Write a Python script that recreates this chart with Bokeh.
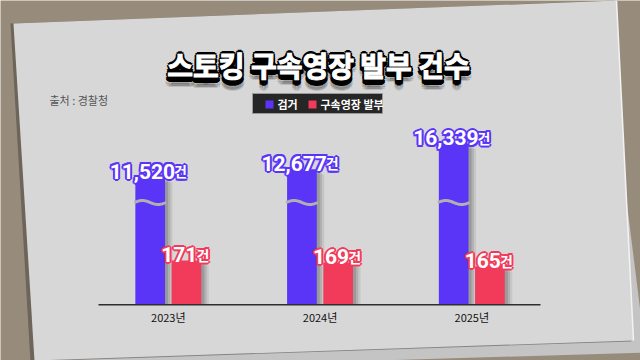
from bokeh.plotting import figure
from bokeh.models import Range1d, ColumnDataSource
from bokeh.core.properties import value
from bokeh.embed import file_html
from bokeh.resources import INLINE
import numpy as np

# ---------------- data ----------------
years = ["2023년", "2024년", "2025년"]
arrests = [11520, 12677, 16339]        # 검거
warrants = [171, 169, 165]             # 구속영장 발부
title_text = "스토킹 구속영장 발부 건수"
source_note = "출처 : 경찰청"
legend_labels = ["검거", "구속영장 발부"]
unit = "건"

# ---------------- style ----------------
W, H = 640, 360
PURPLE = "#5a35f7"
RED = "#f23a5a"
PAPER = "#d7d7d7"
BG = "#978c7b"
KR = value("Noto Sans CJK KR")
NUM = value("Roboto")

BASE_Y = 55.7                     # baseline height (px from bottom)
P_UPP, P_BASE = 144.3, -6890.0    # broken scale for 검거
R_UPP, R_BASE = 1.0, 126.7        # magnified scale for 구속영장 발부

p = figure(width=W, height=H, x_range=Range1d(0, W), y_range=Range1d(0, H),
           output_backend="svg", toolbar_location=None, min_border=0,
           x_axis_location=None, y_axis_location=None)
p.grid.visible = False
p.outline_line_color = None
p.background_fill_color = BG
p.border_fill_color = BG

p.extra_x_ranges = {"cat": Range1d(-0.6058, 3.6117)}
p.extra_y_ranges = {
    "pur": Range1d(P_BASE - BASE_Y * P_UPP, P_BASE + (H - BASE_Y) * P_UPP),
    "red": Range1d(R_BASE - BASE_Y * R_UPP, R_BASE + (H - BASE_Y) * R_UPP),
}

# ---------------- paper ----------------
p.patch([40, 626, 645, 45], [H - 200, H - 200, H - 352, -10], fill_color="#c4c4c4", line_color=None)
p.patch([10, 613, 631, 30], [H - 23, H, H - 341, -1], fill_color="#3a3530", fill_alpha=0.45, line_color=None)
p.patch([13, 616, 633, 34], [H - 23, H, H - 340, 0], fill_color=PAPER, line_color=None)
p.line([616, 633], [H, H - 340], line_color="#f2f2f2", line_width=1.5)

# ---------------- bars ----------------
pos = np.arange(len(years)) + 0.5
off, bw = 0.1193, 0.1957
px = 1 / 151.75

src = ColumnDataSource(dict(
    xp=pos - off, xr=pos + off, arrests=arrests, warrants=warrants,
    pb=[P_BASE] * 3, rb=[R_BASE] * 3,
))

# soft shadows
for d, a in [(5, 0.08), (3.5, 0.11), (2, 0.13)]:
    p.vbar(x=[x + d * px for x in pos - off], top=[v - d * P_UPP for v in arrests], bottom=P_BASE,
           width=bw + d * px, fill_color="black", fill_alpha=a, line_color=None,
           x_range_name="cat", y_range_name="pur")
    p.vbar(x=[x + d * px for x in pos + off], top=[v - d * R_UPP for v in warrants], bottom=R_BASE,
           width=bw + d * px, fill_color="black", fill_alpha=a, line_color=None,
           x_range_name="cat", y_range_name="red")

p.vbar(x="xp", top="arrests", bottom="pb", width=bw, source=src, fill_color=PURPLE,
       line_color=None, x_range_name="cat", y_range_name="pur")
p.vbar(x="xr", top="warrants", bottom="rb", width=bw, source=src, fill_color=RED,
       line_color=None, x_range_name="cat", y_range_name="red")

# axis break marks on 검거 bars
t = np.linspace(0, 1, 40)
xs, ys = [], []
for cx in pos - off:
    xs.append(list(cx - bw / 2 - 1 * px + t * (bw + 2 * px)))
    ys.append(list(158 + 2.0 * np.sin(2 * np.pi * t)))
p.multi_line(xs, ys, line_color="#b0b0b0", line_width=3.0, x_range_name="cat")

# baseline
p.line([98, 540], [BASE_Y, BASE_Y], line_color="#2e2e2e", line_width=1.6)

# year labels
p.text(x=list(pos), y=[BASE_Y - 12] * 3, text=years, x_range_name="cat",
       text_align="center", text_baseline="middle", text_font=KR,
       text_font_size="11px", text_color="#111111")

RING = [(np.cos(a), np.sin(a)) for a in np.linspace(0, 2 * np.pi, 8, endpoint=False)]


def num_w(s, fs):
    return sum(0.24 * fs if c == "," else 0.54 * fs for c in s)


# value labels (white with coloured outline)
FS = 21
for xs_, vals, rng, col in [(pos - off, arrests, "pur", PURPLE), (pos + off, warrants, "red", RED)]:
    labels = [f"{v:,}" for v in vals]
    xo = [num_w(s, FS) / 2 - 6 for s in labels]
    layers = [(2.0 * cx_, 2.0 * cy_, col) for cx_, cy_ in RING] + [(0, 0, "white")]
    for dx, dy, c in layers:
        ls = ColumnDataSource(dict(x=list(xs_), y=vals, t=labels, u=[unit] * len(vals),
                                   xo=[v + dx for v in xo], xu=[v - 1 + dx for v in xo]))
        p.text(x="x", y="y", text="t", x_offset="xo", y_offset=-6 + dy, source=ls,
               x_range_name="cat", y_range_name=rng, text_align="right", text_baseline="alphabetic",
               text_font=NUM, text_font_style="bold", text_font_size=f"{FS}px", text_color=c)
        p.text(x="x", y="y", text="u", x_offset="xu", y_offset=-6 + dy, source=ls,
               x_range_name="cat", y_range_name=rng, text_align="left", text_baseline="alphabetic",
               text_font=KR, text_font_style="bold", text_font_size="14px", text_color=c)

# title
TX, TY, TFS = 318, 296, "28px"
for dy, col, a, r in [(8, "#000000", 0.12, 3), (4, "#000000", 1.0, 2.2), (0, "#000000", 1.0, 2.2)]:
    for cx_, cy_ in RING:
        p.text(x=[TX], y=[TY - dy], text=[title_text], x_offset=r * cx_, y_offset=r * cy_,
               text_align="center", text_baseline="middle",
               text_font=KR, text_font_style="bold", text_font_size=TFS,
               text_color=col, text_alpha=a)
p.text(x=[TX], y=[TY], text=[title_text], text_align="center", text_baseline="middle",
       text_font=KR, text_font_style="bold", text_font_size=TFS,
       text_color="white", text_outline_color="white")

# source
p.text(x=[49], y=[H - 99], text=[source_note], text_align="left", text_baseline="middle",
       text_font=KR, text_font_size="11px", text_color="#555555")

# legend box
p.quad(left=[252], right=[382], bottom=[H - 113], top=[H - 93], fill_color="#262626",
       line_color="#9a9a9a", line_width=1)
p.quad(left=[265, 308], right=[273, 316], bottom=[H - 108, H - 108], top=[H - 100, H - 100],
       fill_color=[PURPLE, RED], line_color=None)
p.text(x=[277, 320], y=[H - 103.5, H - 103.5], text=legend_labels, text_align="left",
       text_baseline="middle", text_font=KR, text_font_style="bold", text_font_size="11px",
       text_color="white")

open("out.html", "w").write(file_html(p, INLINE))
